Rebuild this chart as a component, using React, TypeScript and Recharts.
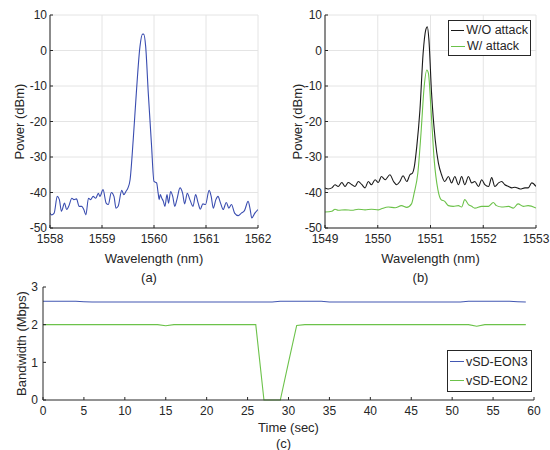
import React from "react";
import { LineChart, Line, XAxis, YAxis, CartesianGrid, Legend } from "recharts";

const FONT = '"Liberation Sans", Arial, Helvetica, sans-serif';
const INK = "#262626";
const GRID = "#e4e4e4";

// (a) spectrum around 1559.8 nm
const wlA = [
  1558.0, 1558.03, 1558.08, 1558.14, 1558.18, 1558.22, 1558.28, 1558.32, 1558.36, 1558.42,
  1558.46, 1558.51, 1558.56, 1558.61, 1558.65, 1558.69, 1558.74, 1558.78, 1558.83, 1558.88,
  1558.93, 1558.96, 1559.02, 1559.08, 1559.12, 1559.18, 1559.23, 1559.27, 1559.31, 1559.38,
  1559.42, 1559.46, 1559.5, 1559.54, 1559.6, 1559.66, 1559.73, 1559.78, 1559.8, 1559.84,
  1559.89, 1559.95, 1560.0, 1560.05, 1560.08, 1560.1, 1560.12, 1560.15, 1560.18, 1560.21,
  1560.25, 1560.28, 1560.32, 1560.36, 1560.4, 1560.44, 1560.5, 1560.55, 1560.59, 1560.64,
  1560.69, 1560.75, 1560.8, 1560.85, 1560.89, 1560.94, 1560.99, 1561.06, 1561.1, 1561.14,
  1561.19, 1561.23, 1561.28, 1561.33, 1561.39, 1561.44, 1561.49, 1561.55, 1561.62, 1561.68,
  1561.74, 1561.81, 1561.85, 1561.88, 1561.94, 1562.0,
];
const powA = [
  -45.8, -46.3, -45.8, -41.1, -42.0, -45.3, -43.0, -44.8, -43.9, -41.6,
  -42.0, -41.8, -43.9, -43.9, -44.8, -46.3, -41.6, -42.0, -41.1, -41.6,
  -40.2, -41.1, -39.2, -43.0, -43.4, -40.0, -41.1, -44.4, -43.9, -39.4,
  -40.6, -39.7, -38.7, -36.4, -25.2, -12.0, 1.1, 4.6, 4.6, 1.1,
  -12.0, -26.1, -36.9, -37.3, -40.2, -42.0, -40.6, -41.6, -42.5, -43.9,
  -40.6, -43.0, -39.7, -41.1, -43.9, -42.0, -38.7, -40.2, -43.2, -40.2,
  -42.0, -43.9, -40.6, -43.0, -44.7, -43.2, -43.4, -39.4, -41.1, -44.4,
  -42.0, -41.1, -43.0, -44.8, -42.8, -44.4, -43.4, -45.8, -46.5, -45.8,
  -45.1, -42.5, -44.8, -47.2, -45.8, -44.8,
];

// (b) without attack
const wlNoAtk = [
  1549.0, 1549.06, 1549.13, 1549.19, 1549.25, 1549.32, 1549.38, 1549.44, 1549.51, 1549.57,
  1549.63, 1549.7, 1549.76, 1549.82, 1549.88, 1549.95, 1550.01, 1550.07, 1550.14, 1550.23,
  1550.3, 1550.36, 1550.42, 1550.48, 1550.55, 1550.61, 1550.66, 1550.69, 1550.74, 1550.8,
  1550.86, 1550.91, 1550.94, 1550.97, 1551.02, 1551.09, 1551.15, 1551.21, 1551.27, 1551.34,
  1551.4, 1551.46, 1551.53, 1551.59, 1551.65, 1551.72, 1551.78, 1551.84, 1551.91, 1551.97,
  1552.03, 1552.1, 1552.16, 1552.22, 1552.29, 1552.35, 1552.41, 1552.48, 1552.54, 1552.6,
  1552.7, 1552.79, 1552.85, 1552.92, 1553.0,
];
const powNoAtk = [
  -38.7, -39.0, -38.7, -37.8, -38.3, -37.2, -38.3, -37.2, -37.8, -38.3,
  -36.9, -37.8, -38.7, -36.9, -37.8, -36.4, -37.2, -35.5, -36.4, -35.0,
  -36.9, -37.8, -36.9, -35.3, -36.9, -35.0, -34.5, -33.0, -27.0, -16.7,
  -0.8, 5.8, 6.7, 3.0, -12.0, -25.2, -31.7, -35.0, -36.9, -35.5,
  -37.3, -35.5, -37.8, -35.5, -37.8, -35.5, -37.3, -36.9, -38.3, -36.4,
  -37.8, -38.3, -35.8, -38.3, -37.3, -36.9, -37.8, -38.3, -38.7, -38.5,
  -39.0, -38.7, -38.7, -37.3, -38.3,
];

// (b) with attack
const wlAtk = [
  1549.0, 1549.13, 1549.19, 1549.25, 1549.38, 1549.51, 1549.63, 1549.76, 1549.88, 1550.01,
  1550.07, 1550.2, 1550.33, 1550.45, 1550.55, 1550.64, 1550.69, 1550.76, 1550.82, 1550.88,
  1550.93, 1550.96, 1551.01, 1551.07, 1551.14, 1551.2, 1551.27, 1551.34, 1551.43, 1551.53,
  1551.59, 1551.65, 1551.72, 1551.78, 1551.84, 1551.97, 1552.1, 1552.19, 1552.25, 1552.35,
  1552.48, 1552.57, 1552.66, 1552.76, 1552.85, 1553.0,
];
const powAtk = [
  -45.5, -45.3, -44.7, -45.0, -44.9, -45.0, -44.7, -44.9, -44.7, -44.9,
  -44.6, -44.1, -44.3, -43.7, -44.2, -43.2, -40.2, -34.5, -23.3, -10.2,
  -5.5, -6.4, -16.7, -30.8, -39.2, -42.0, -42.5, -43.7, -43.9, -43.7,
  -44.1, -42.0, -43.4, -43.9, -44.4, -43.9, -43.9, -42.8, -43.7, -44.1,
  -43.9, -44.4, -43.2, -43.9, -43.7, -44.4,
];

// (c) bandwidth over time
const timeSec = [
  0, 1, 2, 3, 4, 5, 6, 7, 8, 9, 10, 11, 12, 13, 14, 15, 16, 17, 18, 19,
  20, 21, 22, 23, 24, 25, 26, 27, 28, 29, 30, 31, 32, 33, 34, 35, 36, 37, 38, 39,
  40, 41, 42, 43, 44, 45, 46, 47, 48, 49, 50, 51, 52, 53, 54, 55, 56, 57, 58, 59,
];
const eon3 = [
  2.62, 2.62, 2.62, 2.62, 2.62, 2.61, 2.6, 2.6, 2.6, 2.6, 2.6, 2.6, 2.6, 2.6, 2.6, 2.6, 2.6, 2.6, 2.6, 2.6,
  2.6, 2.6, 2.6, 2.6, 2.6, 2.6, 2.6, 2.6, 2.6, 2.62, 2.62, 2.62, 2.62, 2.62, 2.62, 2.6, 2.6, 2.6, 2.6, 2.6,
  2.6, 2.6, 2.6, 2.6, 2.6, 2.6, 2.6, 2.6, 2.6, 2.6, 2.6, 2.6, 2.62, 2.62, 2.62, 2.62, 2.62, 2.62, 2.61, 2.6,
];
const eon2 = [
  2.0, 2.0, 2.0, 2.0, 2.0, 2.0, 2.0, 2.0, 2.0, 2.0, 2.0, 2.0, 2.0, 2.0, 2.0, 1.97, 2.0, 2.0, 2.0, 2.0,
  2.0, 2.0, 2.0, 2.0, 2.0, 2.0, 2.0, 0, 0, 0, 1.0, 1.98, 2.0, 2.0, 2.0, 2.0, 2.0, 2.0, 2.0, 2.0,
  2.0, 2.0, 2.0, 2.0, 2.0, 2.0, 2.0, 2.0, 2.0, 2.0, 2.0, 2.0, 2.0, 1.96, 2.0, 2.0, 2.0, 2.0, 2.0, 2.0,
];

const ticksA = [1558, 1559, 1560, 1561, 1562];
const ticksB = [1549, 1550, 1551, 1552, 1553];
const ticksPow = [-50, -40, -30, -20, -10, 0, 10];
const ticksTime = [0, 5, 10, 15, 20, 25, 30, 35, 40, 45, 50, 55, 60];
const ticksBw = [0, 1, 2, 3];
const namesB = ["W/O attack", "W/ attack"];
const namesC = ["vSD-EON3", "vSD-EON2"];

const zip = (xs: number[], ys: number[]) => xs.map((x, i) => ({ x, y: ys[i] }));
const dataA = zip(wlA, powA);
const dataNoAtk = zip(wlNoAtk, powNoAtk);
const dataAtk = zip(wlAtk, powAtk);
const dataC = timeSec.map((t, i) => ({ t, eon3: eon3[i], eon2: eon2[i] }));

const tickStyle = { fill: INK, fontSize: 12, fontFamily: FONT };

const yTitle = (text: string, cx: number) => ({
  content: ({ viewBox }: any) => {
    const cy = viewBox.y + viewBox.height / 2;
    return (
      <text x={cx} y={cy} transform={`rotate(-90 ${cx} ${cy})`} textAnchor="middle"
        dominantBaseline="central" fill={INK} fontSize={13} fontFamily={FONT}>
        {text}
      </text>
    );
  },
});

const xTitle = (text: string, caption: string, d1: number, d2: number, shift: number) => ({
  content: ({ viewBox }: any) => {
    const cx = viewBox.x + viewBox.width / 2;
    return (
      <g fill={INK} fontSize={13} fontFamily={FONT}>
        <text x={cx} y={viewBox.y + d1} textAnchor="middle" dominantBaseline="central">{text}</text>
        <text x={cx + shift} y={viewBox.y + d2} textAnchor="middle" dominantBaseline="central">{caption}</text>
      </g>
    );
  },
});

function LegendBox({ payload, order, rowH }: any) {
  const items = [...(payload || [])].sort((a: any, b: any) => order.indexOf(a.value) - order.indexOf(b.value));
  return (
    <div style={{ border: `1px solid ${INK}`, background: "#fff", padding: "1px 2px",
      fontFamily: FONT, fontSize: 12.5, color: INK, boxSizing: "border-box" }}>
      {items.map((p: any) => (
        <div key={p.value} style={{ display: "flex", alignItems: "center", height: rowH, whiteSpace: "nowrap" }}>
          <span style={{ display: "inline-block", width: 14, borderTop: `1.3px solid ${p.color}`, marginRight: 2 }} />
          {p.value}
        </div>
      ))}
    </div>
  );
}

function Spectrum({ ticks, title, caption, shift, yCx, right, children, legend }: any) {
  return (
    <LineChart width={275} height={290} margin={{ top: 15, right, bottom: 0, left: 0 }}>
      <CartesianGrid stroke={GRID} />
      <XAxis dataKey="x" type="number" domain={[ticks[0], ticks[4]]} ticks={ticks} allowDataOverflow
        height={62} stroke={INK} tickSize={-3} tickMargin={9} tick={tickStyle}
        label={xTitle(title, caption, 30, 49, shift)} />
      <XAxis xAxisId="top" orientation="top" dataKey="x" type="number" domain={[ticks[0], ticks[4]]}
        ticks={ticks} height={0} stroke={INK} tickSize={-3} tick={false} />
      <YAxis type="number" domain={[-50, 10]} ticks={ticksPow} width={50} stroke={INK}
        tickSize={-3} tickMargin={6} tick={tickStyle} label={yTitle("Power (dBm)", yCx)} />
      <YAxis yAxisId="r" orientation="right" type="number" domain={[-50, 10]} ticks={ticksPow}
        width={0} stroke={INK} tickSize={-3} tick={false} />
      {legend}
      {children}
    </LineChart>
  );
}

export default function App() {
  return (
    <div style={{ position: "absolute", left: 0, top: 0, width: 550, height: 450, background: "#fff" }}>
      <div style={{ position: "absolute", left: 0, top: 0 }}>
        <Spectrum ticks={ticksA} title="Wavelength (nm)" caption="(a)" shift={-5} yCx={19} right={17}>
          <Line data={dataA} dataKey="y" type="monotone" stroke="#3a4db0" strokeWidth={1.1}
            dot={false} isAnimationActive={false} />
        </Spectrum>
      </div>
      <div style={{ position: "absolute", left: 275, top: 0 }}>
        <Spectrum ticks={ticksB} title="Wavelength (nm)" caption="(b)" shift={-10} yCx={22} right={14}
          legend={
            <Legend layout="vertical" align="center" verticalAlign="middle"
              wrapperStyle={{ left: 173, top: 20, width: 83 }}
              content={(p: any) => <LegendBox payload={p.payload} order={namesB} rowH={16} />} />
          }>
          <Line data={dataNoAtk} dataKey="y" name={namesB[0]} type="monotone" stroke="#1a1a1a"
            strokeWidth={1.1} dot={false} isAnimationActive={false} />
          <Line data={dataAtk} dataKey="y" name={namesB[1]} type="monotone" stroke="#6cc24a"
            strokeWidth={1.1} dot={false} isAnimationActive={false} />
        </Spectrum>
      </div>
      <div style={{ position: "absolute", left: 0, top: 270 }}>
        <LineChart width={550} height={180} data={dataC} margin={{ top: 17, right: 16, bottom: 0, left: 0 }}>
          <XAxis dataKey="t" type="number" domain={[0, 60]} ticks={ticksTime} height={50} stroke={INK}
            tickSize={-3} tickMargin={9} tick={tickStyle}
            label={xTitle("Time (sec)", "(c)", 27, 43, -5)} />
          <XAxis xAxisId="top" orientation="top" dataKey="t" type="number" domain={[0, 60]}
            ticks={ticksTime} height={0} stroke={INK} tickSize={-3} tick={false} />
          <YAxis type="number" domain={[0, 3]} ticks={ticksBw} width={43} stroke={INK} tickSize={-3}
            tickMargin={8} tick={tickStyle} label={yTitle("Bandwidth (Mbps)", 21)} />
          <YAxis yAxisId="r" orientation="right" type="number" domain={[0, 3]} ticks={ticksBw}
            width={0} stroke={INK} tickSize={-3} tick={false} />
          <Legend layout="vertical" align="center" verticalAlign="middle"
            wrapperStyle={{ left: 447, top: 80, width: 85 }}
            content={(p: any) => <LegendBox payload={p.payload} order={namesC} rowH={19} />} />
          <Line dataKey="eon3" name={namesC[0]} type="linear" stroke="#4257b2" strokeWidth={1.1}
            dot={false} isAnimationActive={false} />
          <Line dataKey="eon2" name={namesC[1]} type="linear" stroke="#6cc24a" strokeWidth={1.1}
            dot={false} isAnimationActive={false} />
        </LineChart>
      </div>
    </div>
  );
}
